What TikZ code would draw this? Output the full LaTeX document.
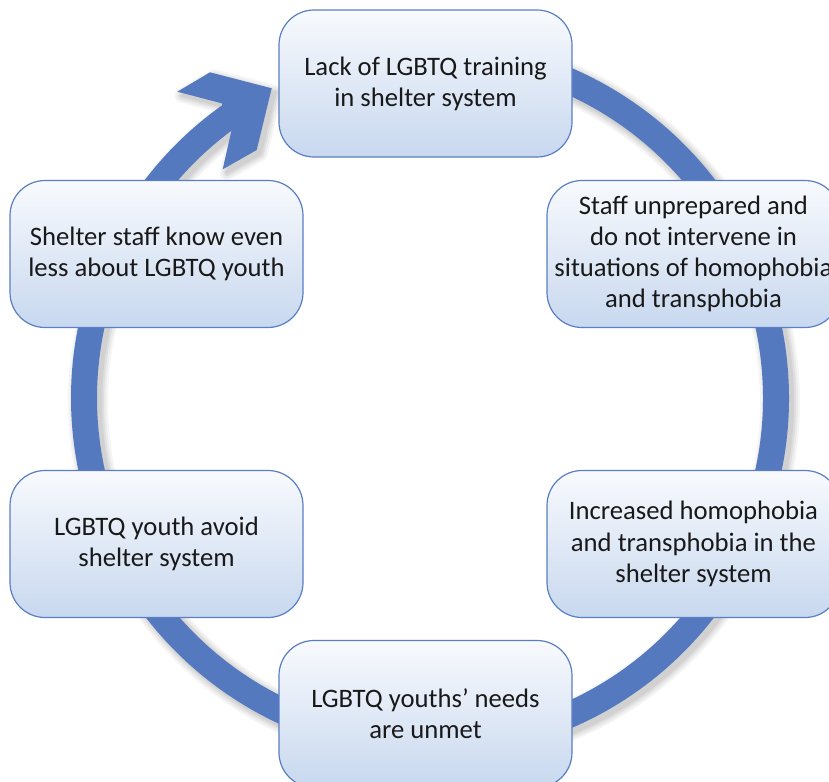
\documentclass[tikz,border=0pt]{standalone}
\usepackage{fontspec}
\setmainfont{Carlito}
\usepackage{tikz}
\usetikzlibrary{
  calc,%
  positioning
}
\definecolor{ringblue}{RGB}{85,121,191}
\definecolor{boxline}{RGB}{90,126,194}
\definecolor{boxtop}{RGB}{248,250,253}
\definecolor{boxbot}{RGB}{200,216,239}
\tikzset{font=\fontsize{20pt}{23.4pt}\selectfont}
\tikzset{stepnode/.style={rectangle, rounded corners=26.25pt, draw=boxline,
    line width=0.9pt, top color=boxtop, bottom color=boxbot,
    minimum width=219.75pt, minimum height=110.25pt, inner sep=0pt,
    align=center, text=black!90}}
\tikzset{ring/.style={draw=ringblue, line width=19.5pt}}

\begin{document}
\begin{tikzpicture}[x=0.75pt, y=-0.75pt]
  \useasboundingbox (0,0) rectangle (829,782);
  \clip (0,0) rectangle (829,782);
  \coordinate (c) at (430,398);
  % soft shadow under the ring
  \foreach \w/\g in {14/4,10/8,6/13,2/18}{
    \pgfmathsetmacro\lw{(26+\w)*0.75}
    \draw[black!\g, line width=\lw pt] ([shift={(4,4)}]c) ++(-95:346) arc[start angle=-95, end angle=236, radius=346];
    \filldraw[black!\g, line width=\w*0.75pt, line join=round, shift={(4,4)}]
      (210,72.3) -- (271.7,88.3) -- (256.7,150) -- (222.7,169.3) -- (231.7,129.3)
      -- (221.7,103.3) -- (177.3,91.7) -- cycle;
  }
  % the ring and its head
  \draw[ring] (c) ++(-95:346) arc[start angle=-95, end angle=236, radius=346];
  \fill[ringblue] (210,72.3) -- (271.7,88.3) -- (256.7,150) -- (222.7,169.3) -- (231.7,129.3)
      -- (221.7,103.3) -- (177.3,91.7) -- cycle;
  % the six steps
  \node[stepnode] (training) at (425.5,83.5) {Lack of LGBTQ training\\in shelter system};
  \node[stepnode] (staff) at (693.5,254) {Staff unprepared and\\do not intervene in\\situations of homophobia\\and transphobia};
  \node[stepnode] (increased) at (693.5,544) {Increased homophobia\\and transphobia in the\\shelter system};
  \node[stepnode] (unmet) at (425.5,714) {LGBTQ youths’ needs\\are unmet};
  \node[stepnode] (avoid) at (156.5,544) {LGBTQ youth avoid\\shelter system};
  \node[stepnode] (lessknow) at (156.5,254) {Shelter staff know even\\less about LGBTQ youth};
\end{tikzpicture}
\end{document}
